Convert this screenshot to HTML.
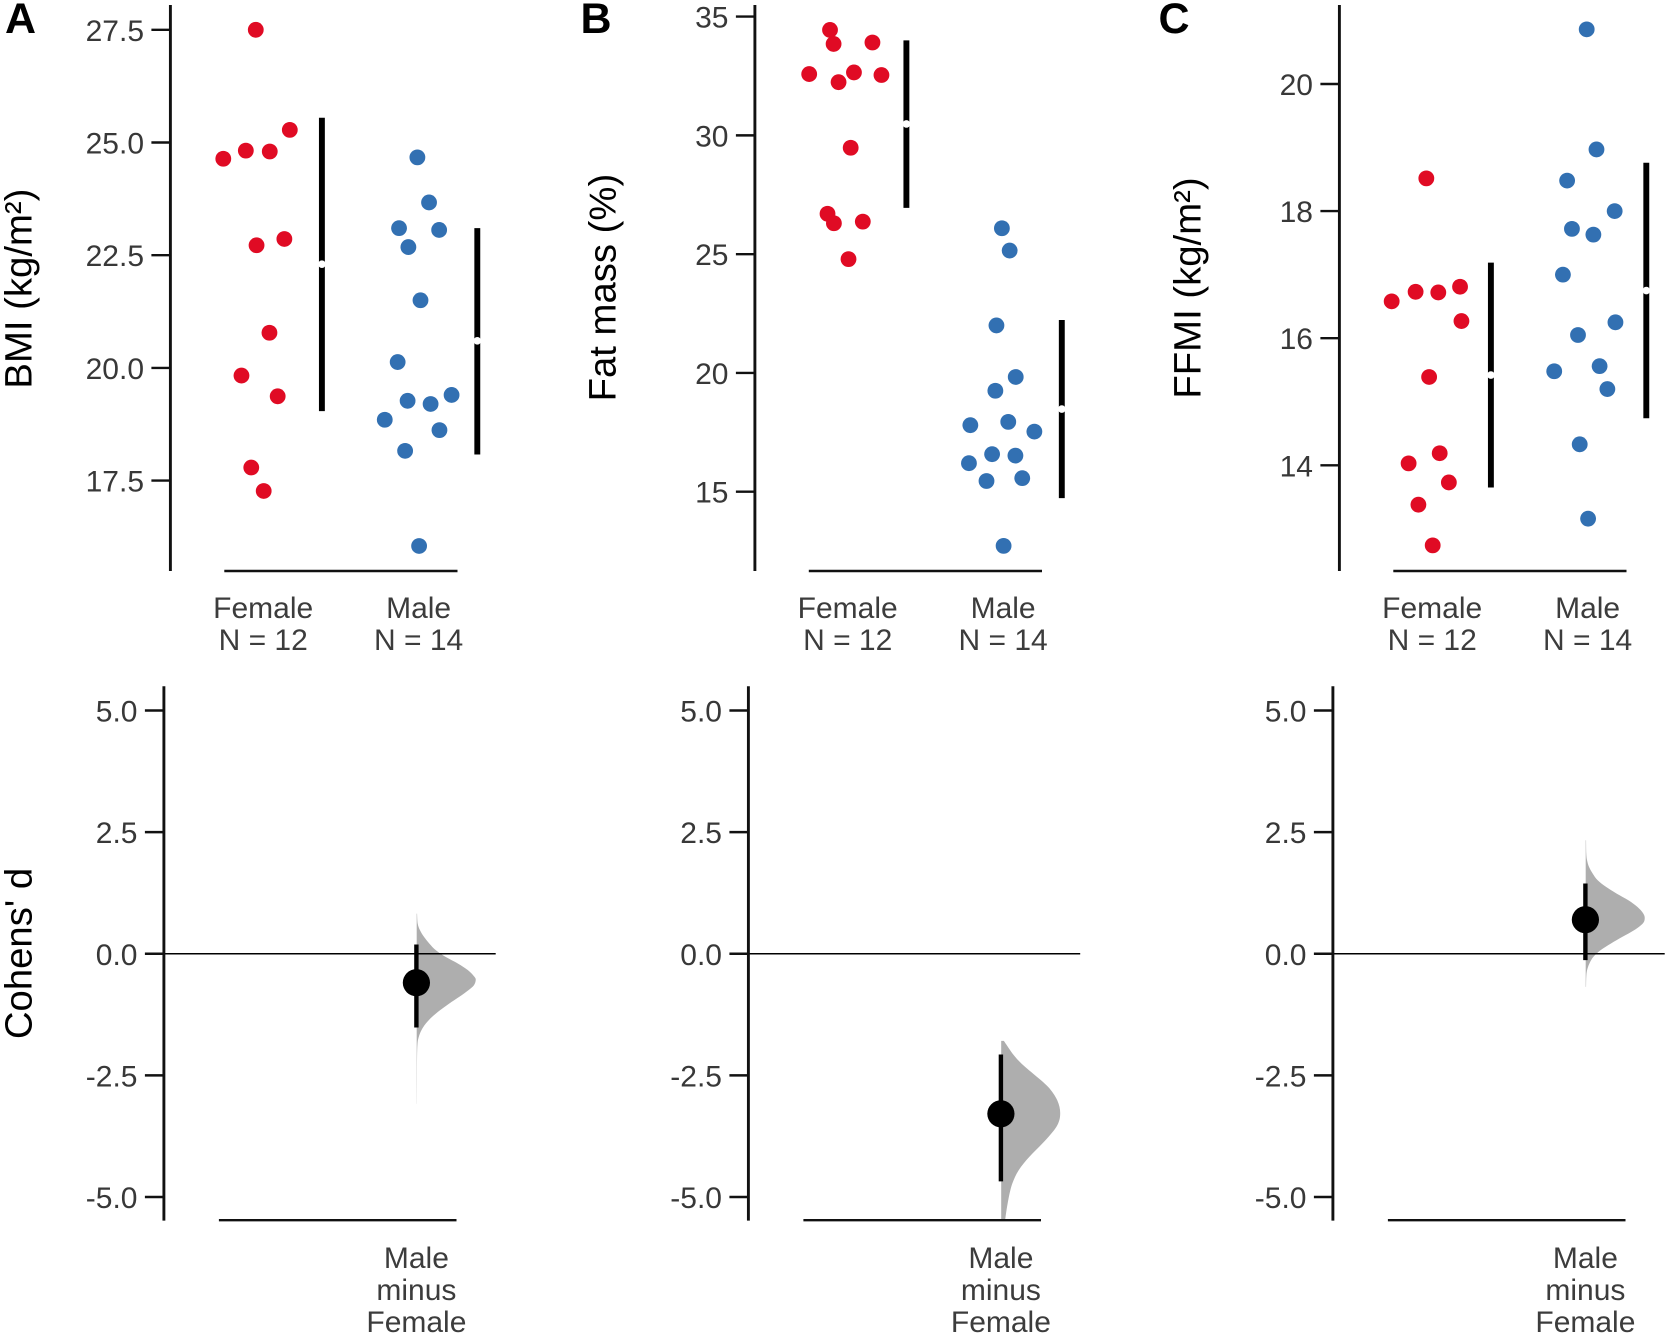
<!DOCTYPE html>
<html lang="en">
<head>
<meta charset="utf-8">
<title>Estimation plots of BMI, fat mass and FFMI</title>
<style>
html,body{margin:0;padding:0;background:#fff;}
svg{display:block;font-family:"Liberation Sans",Arial,sans-serif;}
.title{font-size:38.3px;fill:#000;}
.cat{font-size:30px;fill:#3c3c3c;text-anchor:middle;}
.letter{font-size:43px;font-weight:bold;fill:#000;}
</style>
</head>
<body>
<svg id="chart" xmlns="http://www.w3.org/2000/svg" width="1668" height="1336" viewBox="0 0 1668 1336">
  <rect width="1668" height="1336" fill="#fff"/>
  <g id="marks"></g>

  <text class="letter" x="5" y="33">A</text>
  <text class="letter" x="580.5" y="33">B</text>
  <text class="letter" x="1158.5" y="33">C</text>

  <text class="title" text-anchor="middle" transform="translate(31.4,288.6) rotate(-90)">BMI (kg/m²)</text>
  <text class="title" text-anchor="middle" transform="translate(615.4,287.6) rotate(-90)">Fat mass (%)</text>
  <text class="title" text-anchor="middle" transform="translate(1200.4,288) rotate(-90)">FFMI (kg/m²)</text>
  <text class="title" text-anchor="middle" transform="translate(31.4,953.5) rotate(-90)">Cohens' d</text>

  <g>
    <text class="cat" x="263.2" y="618">Female</text>
    <text class="cat" x="263.2" y="650">N = 12</text>
    <text class="cat" x="418.6" y="618">Male</text>
    <text class="cat" x="418.6" y="650">N = 14</text>
  </g>
  <g>
    <text class="cat" x="847.7" y="618">Female</text>
    <text class="cat" x="847.7" y="650">N = 12</text>
    <text class="cat" x="1003.1" y="618">Male</text>
    <text class="cat" x="1003.1" y="650">N = 14</text>
  </g>
  <g>
    <text class="cat" x="1432.2" y="618">Female</text>
    <text class="cat" x="1432.2" y="650">N = 12</text>
    <text class="cat" x="1587.6" y="618">Male</text>
    <text class="cat" x="1587.6" y="650">N = 14</text>
  </g>
  <g>
    <text class="cat" x="416.4" y="1268">Male</text>
    <text class="cat" x="416.4" y="1300">minus</text>
    <text class="cat" x="416.4" y="1332">Female</text>
  </g>
  <g>
    <text class="cat" x="1000.9" y="1268">Male</text>
    <text class="cat" x="1000.9" y="1300">minus</text>
    <text class="cat" x="1000.9" y="1332">Female</text>
  </g>
  <g>
    <text class="cat" x="1585.4" y="1268">Male</text>
    <text class="cat" x="1585.4" y="1300">minus</text>
    <text class="cat" x="1585.4" y="1332">Female</text>
  </g>
</svg>

<script>
// ---------- Panel A: BMI ----------
var bmiTicks = [17.5, 20, 22.5, 25, 27.5];
var bmiTickLabels = ["17.5", "20.0", "22.5", "25.0", "27.5"];
var bmiFemale = [27.5, 25.28, 24.82, 24.80, 24.64, 22.86, 22.72, 20.78, 19.83, 19.37, 17.79, 17.27];
var bmiFemaleJitter = [-0.051, 0.168, -0.115, 0.039, -0.26, 0.133, -0.046, 0.037, -0.143, 0.09, -0.08, 0];
var bmiMale = [24.67, 23.67, 23.10, 23.06, 22.68, 21.50, 20.13, 19.27, 19.20, 19.40, 18.85, 18.62, 18.16, 16.05];
var bmiMaleJitter = [-0.011, 0.064, -0.129, 0.129, -0.069, 0.009, -0.138, -0.074, 0.074, 0.209, -0.221, 0.131, -0.09, 0];
var bmiMean = [22.30, 20.60];
var bmiSdLow = [19.04, 18.08];
var bmiSdHigh = [25.55, 23.10];

// ---------- Panel B: Fat mass ----------
var fatTicks = [15, 20, 25, 30, 35];
var fatTickLabels = ["15", "20", "25", "30", "35"];
var fatFemale = [34.44, 33.85, 33.91, 32.58, 32.24, 32.65, 32.54, 29.48, 26.70, 26.30, 26.37, 24.79];
var fatFemaleJitter = [-0.117, -0.094, 0.156, -0.251, -0.062, 0.037, 0.214, 0.016, -0.133, -0.092, 0.094, 0.002];
var fatMale = [26.09, 25.15, 22.0, 19.83, 19.25, 17.80, 17.94, 17.53, 16.58, 16.52, 16.20, 15.45, 15.57, 12.72];
var fatMaleJitter = [-0.011, 0.039, -0.046, 0.078, -0.053, -0.214, 0.03, 0.198, -0.074, 0.076, -0.223, -0.11, 0.12, 0];
var fatMean = [30.48, 18.48];
var fatSdLow = [26.95, 14.73];
var fatSdHigh = [34.0, 22.23];

// ---------- Panel C: FFMI ----------
var ffmiTicks = [14, 16, 18, 20];
var ffmiTickLabels = ["14", "16", "18", "20"];
var ffmiFemale = [18.515, 16.81, 16.73, 16.72, 16.58, 16.27, 15.39, 14.19, 14.03, 13.73, 13.38, 12.74];
var ffmiFemaleJitter = [-0.041, 0.176, -0.11, 0.036, -0.264, 0.185, -0.023, 0.045, -0.155, 0.104, -0.092, 0];
var ffmiMale = [20.86, 18.97, 18.48, 18.0, 17.72, 17.63, 17.0, 16.25, 16.05, 15.56, 15.48, 15.20, 14.33, 13.16];
var ffmiMaleJitter = [-0.009, 0.054, -0.135, 0.171, -0.104, 0.034, -0.162, 0.176, -0.065, 0.074, -0.218, 0.124, -0.054, 0];
var ffmiMean = [15.42, 16.75];
var ffmiSdLow = [13.65, 14.74];
var ffmiSdHigh = [17.19, 18.76];

// ---------- Effect sizes ----------
var effectTicks = [-5, -2.5, 0, 2.5, 5];
var effectTickLabels = ["-5.0", "-2.5", "0.0", "2.5", "5.0"];
var effectSizes = [-0.595, -3.29, 0.70];
var effectCiLow = [-1.515, -4.68, -0.13];
var effectCiHigh = [0.19, -2.07, 1.445];

var bmiViolinD = [0.826, 0.62, 0.483, 0.346, 0.209, 0.072, -0.065, -0.202, -0.339, -0.476, -0.545, -0.647, -0.75, -0.887, -1.024, -1.161, -1.298, -1.435, -1.572, -1.71, -1.846, -2.121, -2.532, -3.08];
var bmiViolinDensity = [0.006, 0.017, 0.056, 0.124, 0.215, 0.325, 0.49, 0.70, 0.87, 0.98, 1, 0.97, 0.876, 0.72, 0.55, 0.395, 0.26, 0.155, 0.08, 0.035, 0.014, 0.006, 0.004, 0.003];
var fatViolinD = [-1.792, -1.915, -2.052, -2.189, -2.326, -2.463, -2.6, -2.737, -2.874, -3.011, -3.148, -3.285, -3.422, -3.559, -3.696, -3.834, -3.971, -4.107, -4.245, -4.382, -4.519, -4.656, -4.793, -4.998, -5.272, -5.464];
var fatViolinDensity = [0.045, 0.113, 0.192, 0.288, 0.405, 0.54, 0.675, 0.795, 0.885, 0.95, 0.988, 1, 0.985, 0.935, 0.85, 0.75, 0.64, 0.53, 0.425, 0.335, 0.262, 0.21, 0.17, 0.13, 0.09, 0.068];
var ffmiViolinD = [2.333, 2.059, 1.922, 1.785, 1.648, 1.511, 1.374, 1.237, 1.10, 0.963, 0.826, 0.723, 0.62, 0.483, 0.346, 0.209, 0.072, -0.065, -0.202, -0.339, -0.476, -0.682];
var ffmiViolinDensity = [0.006, 0.01, 0.023, 0.056, 0.119, 0.203, 0.345, 0.525, 0.723, 0.876, 0.977, 1, 0.966, 0.819, 0.62, 0.425, 0.25, 0.13, 0.062, 0.023, 0.01, 0.006];

var NS = "http://www.w3.org/2000/svg";
var root = document.getElementById("marks");
var RED = "#e00b24";
var BLUE = "#3270b2";
var GRAY = "#aeaeae";

function make(tag, parent, attrs) {
  var el = document.createElementNS(NS, tag);
  for (var k in attrs) el.setAttribute(k, attrs[k]);
  parent.appendChild(el);
  return el;
}
function linearScale(v0, px0, v1, px1) {
  return function (v) { return px0 + (v - v0) * (px1 - px0) / (v1 - v0); };
}
function smoothPath(pts) {
  var d = "M" + pts[0][0].toFixed(2) + " " + pts[0][1].toFixed(2);
  for (var i = 0; i < pts.length - 1; i++) {
    var p0 = pts[Math.max(i - 1, 0)], p1 = pts[i], p2 = pts[i + 1], p3 = pts[Math.min(i + 2, pts.length - 1)];
    var c1x = p1[0] + (p2[0] - p0[0]) / 6, c1y = p1[1] + (p2[1] - p0[1]) / 6;
    var c2x = p2[0] - (p3[0] - p1[0]) / 6, c2y = p2[1] - (p3[1] - p1[1]) / 6;
    d += "C" + c1x.toFixed(2) + " " + c1y.toFixed(2) + " " + c2x.toFixed(2) + " " + c2y.toFixed(2) + " " + p2[0].toFixed(2) + " " + p2[1].toFixed(2);
  }
  return d;
}

function drawYAxis(parent, key, axisX, top, bottom, ticks, labels, yScale) {
  var g = make("g", parent, {});
  
  
  var line = make("line", g, {x1: axisX, x2: axisX, y1: top, y2: bottom, stroke: "#111", "stroke-width": 2.9});
  
  
  ticks.forEach(function (t, i) {
    var y = yScale(t);
    var tick = make("line", g, {x1: axisX - 19, x2: axisX, y1: y, y2: y, stroke: "#111", "stroke-width": 2.4});
    
    
    var label = make("text", g, {x: axisX - 26.4, y: y + 11, "text-anchor": "end", "font-size": 30, fill: "#383838"});
    
    
    label.textContent = labels[i];
  });
}
function drawXAxis(parent, key, x1, x2, y) {
  var line = make("line", parent, {x1: x1, x2: x2, y1: y, y2: y, stroke: "#111", "stroke-width": 2.4});
  
  
}
function drawDots(parent, key, values, jitter, catIndex, xBase, spacing, yScale, color) {
  var g = make("g", parent, {});
  
  
  values.forEach(function (v, i) {
    var c = make("circle", g, {cx: xBase + spacing * (catIndex + jitter[i]), cy: yScale(v), r: 7.9, fill: color});
    
    
  });
}
function drawGapBar(parent, key, x, mean, low, high, yScale) {
  var g = make("g", parent, {});
  
  
  var bar = make("line", g, {x1: x, x2: x, y1: yScale(high), y2: yScale(low), stroke: "#000", "stroke-width": 5.9});
  
  
  var gap = make("circle", g, {cx: x, cy: yScale(mean), r: 3.8, fill: "#fff"});
  
  
}
function drawViolin(parent, key, x, ds, densities, yScale) {
  var pts = ds.map(function (d, i) { return [x + densities[i] * 59, yScale(d)]; });
  var first = pts[0], last = pts[pts.length - 1];
  var path = "M" + x + " " + first[1].toFixed(2) + "L" + first[0].toFixed(2) + " " + first[1].toFixed(2) +
    smoothPath(pts).replace(/^M[^C]+/, "") + "L" + x + " " + last[1].toFixed(2) + "Z";
  var v = make("path", parent, {d: path, fill: GRAY, stroke: "none"});
  
  
}

var PANEL_STEP = 584.5;
var SPACING = 155.4;
var scatterPanels = [
  {key: "bmi", ticks: bmiTicks, labels: bmiTickLabels, f: bmiFemale, fj: bmiFemaleJitter, m: bmiMale, mj: bmiMaleJitter,
   mean: bmiMean, low: bmiSdLow, high: bmiSdHigh, y: linearScale(17.5, 480.6, 27.5, 29.8)},
  {key: "fat-mass", ticks: fatTicks, labels: fatTickLabels, f: fatFemale, fj: fatFemaleJitter, m: fatMale, mj: fatMaleJitter,
   mean: fatMean, low: fatSdLow, high: fatSdHigh, y: linearScale(15, 491.7, 35, 16.6)},
  {key: "ffmi", ticks: ffmiTicks, labels: ffmiTickLabels, f: ffmiFemale, fj: ffmiFemaleJitter, m: ffmiMale, mj: ffmiMaleJitter,
   mean: ffmiMean, low: ffmiSdLow, high: ffmiSdHigh, y: linearScale(14, 465.3, 20, 84)}
];
var effectPanels = [
  {key: "bmi", vd: bmiViolinD, vy: bmiViolinDensity},
  {key: "fat-mass", vd: fatViolinD, vy: fatViolinDensity},
  {key: "ffmi", vd: ffmiViolinD, vy: ffmiViolinDensity}
];
var effectY = linearScale(-5, 1197, 5, 710.5);

scatterPanels.forEach(function (p, i) {
  var axisX = 170.4 + PANEL_STEP * i;
  var g = make("g", root, {});
  
  
  var x0 = axisX + 93.3;
  drawDots(g, 'female-' + p.key, p.f, p.fj, 0, x0, SPACING, p.y, RED);
  drawDots(g, 'male-' + p.key, p.m, p.mj, 1, x0, SPACING, p.y, BLUE);
  drawGapBar(g, 'female-' + p.key, x0 + 58.2, p.mean[0], p.low[0], p.high[0], p.y);
  drawGapBar(g, 'male-' + p.key, x0 + SPACING + 58.2, p.mean[1], p.low[1], p.high[1], p.y);
  drawYAxis(g, p.key, axisX, 5, 571, p.ticks, p.labels, p.y);
  drawXAxis(g, p.key, axisX + 53.9, axisX + 287.1, 571);
});

effectPanels.forEach(function (p, i) {
  var axisX = 163.9 + PANEL_STEP * i;
  var x = axisX + 252.5;
  var g = make("g", root, {});
  
  
  drawViolin(g, p.key, x + 0.3, p.vd, p.vy, effectY);
  var zero = make("line", g, {x1: axisX, x2: axisX + 331.8, y1: effectY(0), y2: effectY(0), stroke: "#000", "stroke-width": 1.5});
  
  
  var ci = make("line", g, {x1: x, x2: x, y1: effectY(effectCiHigh[i]), y2: effectY(effectCiLow[i]), stroke: "#000", "stroke-width": 4.4});
  
  
  var dot = make("circle", g, {cx: x, cy: effectY(effectSizes[i]), r: 13.6, fill: "#000"});
  
  
  drawYAxis(g, 'effect-' + p.key, axisX, 686.3, 1220.6, effectTicks, effectTickLabels, effectY);
  drawXAxis(g, 'effect-' + p.key, axisX + 55, axisX + 292.6, 1220.2);
});
</script>
</body>
</html>
